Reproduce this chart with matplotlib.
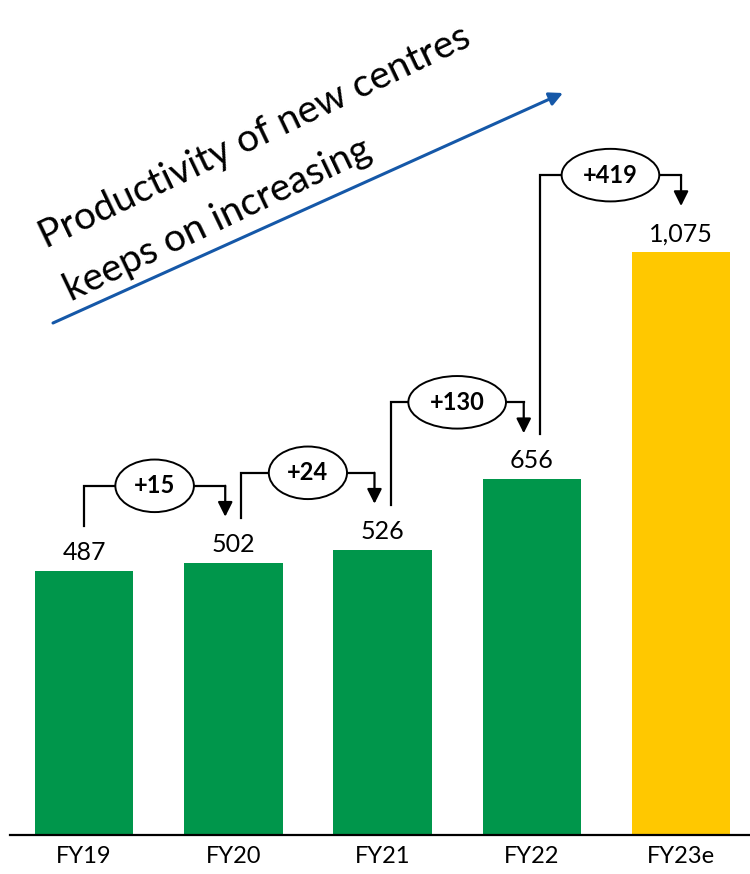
import matplotlib.pyplot as plt

# data
years = ["FY19", "FY20", "FY21", "FY22", "FY23e"]
values = [487, 502, 526, 656, 1075]
colors = ["#00964B", "#00964B", "#00964B", "#00964B", "#FFC800"]
deltas = ["+15", "+24", "+130", "+419"]

plt.rcParams['font.family'] = ['Lato', 'DejaVu Sans']

fig = plt.figure(figsize=(7.5, 8.74), dpi=100)
ax = fig.add_axes([10 / 750, 1 - 835 / 874, 740 / 750, 835 / 874])

x = list(range(len(years)))
ax.bar(x, values, width=0.66, color=colors)
ax.set_xlim(-0.496, 4.462)
ax.set_ylim(0, 1540)

# value labels
for xi, v in zip(x, values):
    ax.annotate(f"{v:,}", (xi, v), xytext=(0, 5), textcoords="offset points",
                ha="center", va="bottom", fontsize=18)

# step connectors between bars
for i, d in enumerate(deltas):
    x0 = x[i] + (0 if i == 0 else 0.054)
    x1 = x[i + 1] - (0 if i == len(deltas) - 1 else 0.054)
    start = values[i] + 83
    level = values[i + 1] + 142
    tip = values[i + 1] + 85
    ax.plot([x0, x0, x1], [start, level, level], color="black", lw=1.6,
            solid_joinstyle="miter")
    ax.annotate("", xy=(x1, tip), xytext=(x1, level),
                arrowprops=dict(arrowstyle="-|>", mutation_scale=22, lw=1.6,
                                color="black", shrinkA=0, shrinkB=0))
    ax.text((x0 + x1) / 2, level, d, ha="center", va="center", fontsize=17,
            fontweight="bold",
            bbox=dict(boxstyle="ellipse,pad=0.3", fc="white", ec="black", lw=1.4))

# axes styling
for s in ["top", "right", "left"]:
    ax.spines[s].set_visible(False)
ax.spines["bottom"].set_linewidth(1.6)
ax.set_yticks([])
ax.set_xticks(x)
ax.set_xticklabels(years, fontsize=17)
ax.tick_params(axis="x", length=0, pad=8)

# trend arrow and caption
ax.annotate("", xy=(563 / 750, 1 - 93 / 874), xytext=(53 / 750, 1 - 323 / 874),
            xycoords="figure fraction", textcoords="figure fraction",
            arrowprops=dict(arrowstyle="-|>", mutation_scale=20, lw=2.2,
                            color="#1558A8", shrinkA=0, shrinkB=0))
fig.text(46 / 750, 1 - 249 / 874, "Productivity of new centres",
         rotation=25.5, rotation_mode="anchor", ha="left", va="baseline",
         fontsize=28)
fig.text(71 / 750, 1 - 302 / 874, "keeps on increasing",
         rotation=25.5, rotation_mode="anchor", ha="left", va="baseline",
         fontsize=28)

fig.savefig("out.png", dpi=100)
